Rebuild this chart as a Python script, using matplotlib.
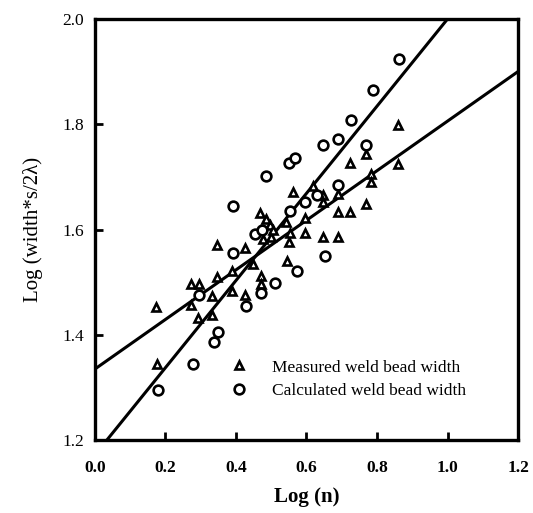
import numpy as np
import matplotlib.pyplot as plt

plt.rcParams['font.family'] = ['Liberation Serif', 'DejaVu Serif']

# measured weld bead width (triangles)
meas_x = [0.173, 0.175, 0.272, 0.294, 0.272, 0.292, 0.332, 0.333, 0.345, 0.345,
          0.388, 0.389, 0.427, 0.426, 0.448, 0.470, 0.470, 0.477, 0.500, 0.551,
          0.553, 0.545, 0.595, 0.561, 0.467, 0.496, 0.543, 0.595, 0.619, 0.648,
          0.648, 0.689, 0.689, 0.722, 0.646, 0.689, 0.768, 0.723, 0.768, 0.784,
          0.784, 0.860, 0.860, 0.485, 0.505]
meas_y = [1.452, 1.345, 1.497, 1.497, 1.457, 1.432, 1.438, 1.473, 1.510, 1.570,
          1.483, 1.521, 1.565, 1.475, 1.535, 1.512, 1.497, 1.583, 1.585, 1.577,
          1.593, 1.540, 1.594, 1.671, 1.632, 1.609, 1.615, 1.622, 1.683, 1.665,
          1.652, 1.668, 1.634, 1.634, 1.585, 1.585, 1.648, 1.727, 1.743, 1.705,
          1.690, 1.798, 1.725, 1.620, 1.600]

# calculated weld bead width (circles)
calc_x = [0.178, 0.277, 0.294, 0.349, 0.338, 0.393, 0.393, 0.429, 0.453, 0.474,
          0.472, 0.512, 0.486, 0.550, 0.568, 0.553, 0.573, 0.597, 0.629, 0.652,
          0.646, 0.689, 0.689, 0.726, 0.770, 0.790, 0.863]
calc_y = [1.296, 1.345, 1.476, 1.405, 1.387, 1.555, 1.645, 1.455, 1.591, 1.599,
          1.480, 1.498, 1.702, 1.727, 1.735, 1.636, 1.522, 1.652, 1.666, 1.549,
          1.760, 1.772, 1.684, 1.808, 1.760, 1.865, 1.924]

# fitted lines: slope, intercept
meas_fit = [0.471, 1.335]
calc_fit = [0.828, 1.172]

fig = plt.figure(figsize=(5.33, 5.13), dpi=100)
ax = fig.add_axes([0.178, 0.142, 0.794, 0.821])

xx = np.array([0.0, 1.2])
ax.plot(xx, meas_fit[0]*xx + meas_fit[1], color='black', lw=2.2)
ax.plot(xx, calc_fit[0]*xx + calc_fit[1], color='black', lw=2.2)

ax.plot(meas_x, meas_y, linestyle='none', marker='^', ms=6, mfc='white',
        mec='black', mew=1.9, label='Measured weld bead width')
ax.plot(calc_x, calc_y, linestyle='none', marker='o', ms=7, mfc='white',
        mec='black', mew=1.9, label='Calculated weld bead width')

ax.set_xlim(0.0, 1.2)
ax.set_ylim(1.2, 2.0)
ax.set_xticks(np.arange(0.0, 1.21, 0.2))
ax.set_yticks(np.arange(1.2, 2.01, 0.2))
ax.xaxis.set_major_formatter(plt.FormatStrFormatter('%.1f'))
ax.yaxis.set_major_formatter(plt.FormatStrFormatter('%.1f'))
ax.tick_params(direction='in', length=6, width=2, labelsize=12.5)
ax.tick_params(axis='x', pad=14)
ax.tick_params(axis='y', pad=8)
for lab in ax.get_xticklabels():
    lab.set_fontweight('bold')
for s in ax.spines.values():
    s.set_linewidth(2.4)

ax.set_xlabel('Log (n)', fontsize=15, fontweight='bold', labelpad=8)
ax.set_ylabel('Log (width*s/2\u03bb)', fontsize=15, labelpad=14)

ax.legend(loc='lower left', bbox_to_anchor=(0.28, 0.078), frameon=False,
          fontsize=12.5, handletextpad=0.9, labelspacing=0.4, borderpad=0)

plt.savefig('out.png', dpi=100)
